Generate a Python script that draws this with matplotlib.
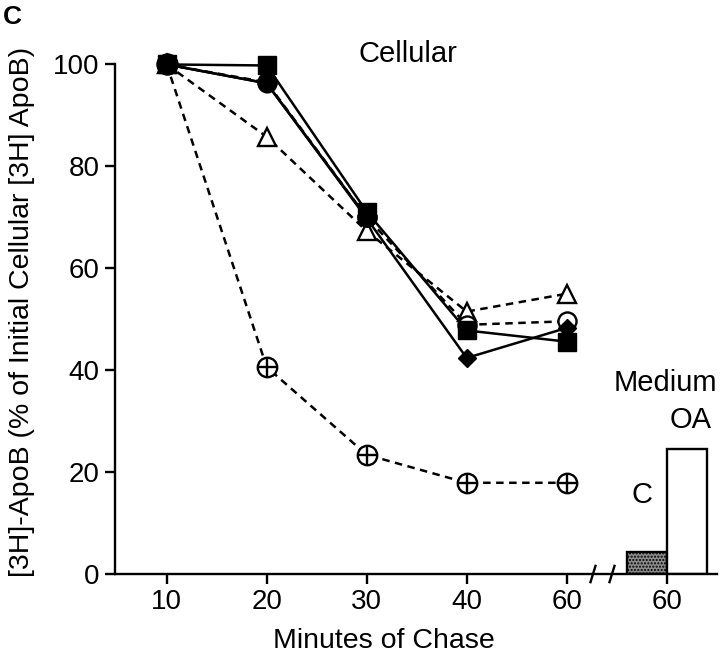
import numpy as np
import matplotlib
matplotlib.use("Agg")
import matplotlib.pyplot as plt

plt.rcParams['font.family'] = ['Liberation Sans', 'DejaVu Sans']

# chase times (minutes) for the cellular curves
minutes = [10, 20, 30, 40, 60]
tick_labels = ["10", "20", "30", "40", "60", "60"]

# cellular [3H]-ApoB, % of initial
filled_square = [100, 99.8, 71.1, 47.8, 45.6]
filled_circle = [100, 96.3, 70.0]
filled_diamond = [100, 96.3, 69.8, 42.4, 48.3]
open_triangle = [100, 85.8, 67.3, 51.5, 55.0]
open_circle = [100, 96.5, 70.0, 48.9, 49.6]
crossed_circle = [100, 40.6, 23.4, 17.9, 17.9]

# medium at 60 min
medium_groups = ["C", "OA"]
medium_values = [4.4, 24.5]

xpos = np.arange(1, len(minutes) + 1)
bar_center = len(minutes) + 1

fig = plt.figure(figsize=(7.2, 6.55), dpi=100)
ax = fig.add_axes([115 / 720, 81 / 655, 602 / 720, 560.5 / 655])

lw = 1.8
mew = 1.7
dash = (3.0, 2.2)

# dashed series first, solid ones on top
ax.plot(xpos, crossed_circle, color='black', lw=lw, dashes=dash,
        marker='o', ms=14, mfc='white', mec='black', mew=mew)
ax.plot(xpos, crossed_circle, ls='none', marker='+', ms=14, mec='black', mew=mew)
ax.plot(xpos, open_triangle, color='black', lw=lw, dashes=dash,
        marker='^', ms=13, mfc='white', mec='black', mew=mew)
ax.plot(xpos, open_circle, color='black', lw=lw, dashes=dash,
        marker='o', ms=13, mfc='white', mec='black', mew=mew)
ax.plot(xpos, filled_diamond, color='black', lw=lw,
        marker='D', ms=9.5, mfc='black', mec='black')
ax.plot(xpos[:len(filled_circle)], filled_circle, color='black', lw=lw,
        marker='o', ms=13.5, mfc='black', mec='black')
ax.plot(xpos[:1], filled_circle[:1], ls='none', marker='o', ms=15, mfc='black', mec='black')
ax.plot(xpos, filled_square, color='black', lw=lw,
        marker='s', ms=12.5, mfc='black', mec='black')

# medium bars
ax.bar(bar_center - 0.2, medium_values[0], width=0.4, facecolor='#8c8c8c',
       edgecolor='black', linewidth=1.7, hatch='.....')
ax.bar(bar_center + 0.2, medium_values[1], width=0.4, facecolor='white',
       edgecolor='black', linewidth=1.7)

ax.set_xlim(0.483, 6.503)
ax.set_ylim(0, 110)
ax.set_xticks(list(xpos) + [bar_center])
ax.set_xticklabels(tick_labels)
ax.set_yticks([0, 20, 40, 60, 80, 100])

for s in ['top', 'right']:
    ax.spines[s].set_visible(False)
ax.spines['left'].set_bounds(0, 100)
for s in ['left', 'bottom']:
    ax.spines[s].set_linewidth(1.7)
ax.tick_params(direction='out', length=7, width=1.7, labelsize=20, pad=4)

# axis break marks
for bx in [5.263, 5.453]:
    ax.plot([bx - 0.025, bx + 0.025], [-1.6, 1.6], color='black', lw=1.7, clip_on=False)

ax.text(3.413, 100.5, "Cellular", fontsize=21, ha='center', va='baseline')
ax.text(5.983, 35.9, "Medium", fontsize=21, ha='center', va='baseline')
ax.text(bar_center + 0.238, 28.7, medium_groups[1], fontsize=21, ha='center', va='baseline')
ax.text(bar_center - 0.247, 13.9, medium_groups[0], fontsize=21, ha='center', va='baseline')

fig.text(384 / 720, 1 - 648 / 655, "Minutes of Chase", fontsize=20.5, ha='center', va='baseline')
fig.text(22 / 720, 1 - 312 / 655, "[3H]-ApoB (% of Initial Cellular [3H] ApoB)",
         fontsize=20.5, rotation=90, ha='center', va='center')
fig.text(3 / 720, 1 - 5 / 655, "C", fontsize=19, fontweight='bold', ha='left', va='top')

fig.savefig('out.png', dpi=100)
